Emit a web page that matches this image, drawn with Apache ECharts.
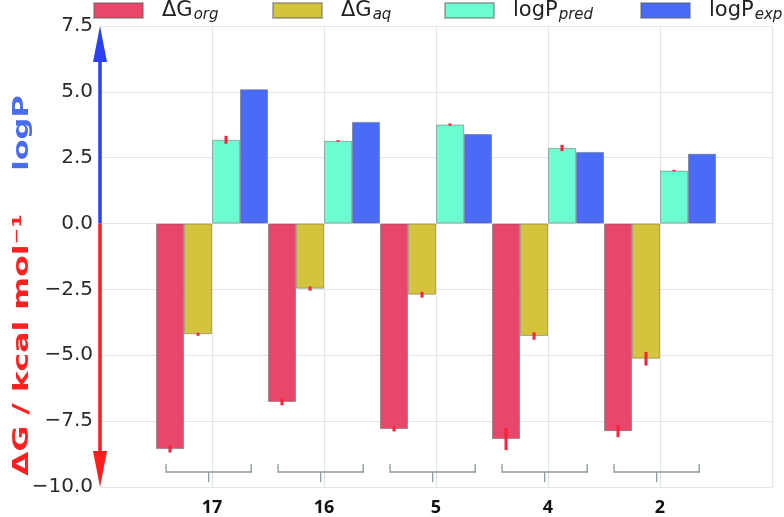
<!DOCTYPE html>
<html>
<head>
<meta charset="utf-8">
<script src="https://cdn.jsdelivr.net/npm/echarts@6/dist/echarts.min.js"></script>
<style>
html,body{margin:0;padding:0;background:#fff;}
#chart{width:784px;height:517px;}
</style>
</head>
<body>
<div id="chart"></div>
<script>
// ---- data ----
const categories = ['', '17', '16', '5', '4', '2', ''];
const compounds = ['17', '16', '5', '4', '2'];
const seriesNames = ['ΔG_org', 'ΔG_aq', 'logP_pred', 'logP_exp'];
const dGorg = [-8.56, -6.77, -7.80, -8.18, -7.88];
const dGaq = [-4.20, -2.47, -2.70, -4.27, -5.13];
const logPpred = [3.18, 3.14, 3.76, 2.87, 2.01];
const logPexp = [5.10, 3.86, 3.40, 2.72, 2.65];
const errOrg = [0.13, 0.13, 0.09, 0.42, 0.23];
const errAq = [0.06, 0.08, 0.11, 0.14, 0.26];
const errPred = [0.15, 0.03, 0.04, 0.12, 0.03];
const errExp = [0, 0, 0, 0, 0];
const yMin = -10, yMax = 7.5, yStep = 2.5;

// ---- styles ----
const colors = ['#e9476a', '#d4c43d', '#6dfcd2', '#4a6bf6'];
const gridColor = '#dfe5e8';

const allVals = [dGorg, dGaq, logPpred, logPexp];
const allErrs = [errOrg, errAq, errPred, errExp];

function pad(arr) { return [null].concat(arr, [null]); }

const errData = [];
allVals.forEach((vals, k) => {
  vals.forEach((v, i) => errData.push([i + 1, v, allErrs[k][i], k]));
});
const bracketData = compounds.map((c, i) => [i + 1, yMin]);
const arrowData = [[0, 0, yMax, 0], [0, 0, yMin, 1]];
const arrowColors = ['#2b40f0', '#ff1c1c'];

const chart = echarts.init(document.getElementById('chart'), null, {renderer: 'canvas'});

const barSeries = seriesNames.map((n, k) => ({
  name: n,
  type: 'bar',
  data: pad(allVals[k]),
  barGap: '0%',
  barCategoryGap: '0%',
  itemStyle: {color: colors[k], borderColor: 'rgba(90,90,90,0.45)', borderWidth: 1},
  emphasis: {disabled: true}
}));

const legendLefts = [93, 272, 444, 640];
const legends = seriesNames.map((n, k) => ({
  data: [n],
  left: legendLefts[k],
  top: 0,
  padding: 0,
  itemWidth: 49,
  itemHeight: 15,
  icon: 'rect',
  selectedMode: false,
  formatter: function (name) {
    const p = name.split('_');
    return '{m|' + p[0] + '}{s|' + p[1] + '}';
  },
  textStyle: {
    padding: [0, 0, 0, 14],
    rich: {
      m: {fontFamily: 'DejaVu Sans', fontSize: 21, color: '#222'},
      s: {fontFamily: 'DejaVu Sans', fontSize: 15, fontStyle: 'italic', color: '#222', padding: [10, 0, 0, 1]}
    }
  }
}));

const option = {
  animation: false,
  backgroundColor: '#fff',
  legend: legends,
  grid: {left: 100, right: 12, top: 26, bottom: 30, containLabel: false},
  xAxis: {
    type: 'category',
    data: categories,
    boundaryGap: false,
    axisLine: {show: false},
    axisTick: {show: false},
    splitLine: {show: true, interval: 0, lineStyle: {color: gridColor, width: 1.2}},
    axisLabel: {interval: 0, margin: 12, fontFamily: 'Open Sans', fontWeight: 'bold', fontSize: 18, color: '#111'}
  },
  yAxis: {
    type: 'value',
    min: yMin, max: yMax, interval: yStep,
    axisLine: {show: false},
    axisTick: {show: false},
    splitLine: {show: true, lineStyle: {color: gridColor, width: 1.2}},
    axisLabel: {
      margin: 7,
      fontFamily: 'DejaVu Sans', fontSize: 20, color: '#2a2a2a',
      formatter: v => v.toFixed(1).replace('-', '\u2212')
    }
  },
  graphic: [
    {type: 'text', x: 23, y: 133, rotation: Math.PI / 2, scaleX: 1.45, z: 100,
      style: {text: 'logP', font: 'bold 21px "DejaVu Sans"', fill: '#4a6cf0', align: 'center', verticalAlign: 'middle'}},
    {type: 'text', x: 23, y: 345, rotation: Math.PI / 2, scaleX: 1.5, z: 100,
      style: {text: 'ΔG / kcal mol⁻¹', font: 'bold 21px "DejaVu Sans"', fill: '#ff2020', align: 'center', verticalAlign: 'middle'}}
  ],
  series: barSeries.concat([
    {
      type: 'custom',
      name: 'err',
      clip: false,
      z: 5,
      data: errData,
      encode: {x: 0, y: 1},
      renderItem: function (params, api) {
        const cat = api.value(0), v = api.value(1), e = api.value(2), k = api.value(3);
        if (!e) return null;
        const band = api.size([1, 0])[0];
        const xc = api.coord([cat, v])[0] + (k - 1.5) * band / 4;
        const yA = api.coord([cat, v - e])[1];
        const yB = api.coord([cat, v + e])[1];
        return {type: 'line', shape: {x1: xc, y1: yA, x2: xc, y2: yB},
          style: {stroke: '#ff1f3a', lineWidth: 3}};
      }
    },
    {
      type: 'custom',
      name: 'brackets',
      clip: false,
      z: 5,
      data: bracketData,
      encode: {x: 0, y: 1},
      renderItem: function (params, api) {
        const cat = api.value(0);
        const band = api.size([1, 0])[0];
        const p = api.coord([cat, api.value(1)]);
        const yb = p[1];
        const xl = p[0] - 0.41 * band, xr = p[0] + 0.35 * band, xc = p[0] - 0.03 * band;
        const st = {stroke: '#8c9a9c', lineWidth: 1.3, fill: null};
        return {type: 'group', children: [
          {type: 'polyline', shape: {points: [[xl, yb - 23], [xl, yb - 15], [xr, yb - 15], [xr, yb - 23]]}, style: st},
          {type: 'line', shape: {x1: xc, y1: yb - 15, x2: xc, y2: yb - 5}, style: st}
        ]};
      }
    },
    {
      type: 'custom',
      name: 'arrows',
      clip: false,
      z: 10,
      data: arrowData,
      encode: {x: 0, y: 2},
      renderItem: function (params, api) {
        const p0 = api.coord([api.value(0), api.value(1)]);
        const p1 = api.coord([api.value(0), api.value(2)]);
        const c = arrowColors[api.value(3)];
        const dir = p1[1] > p0[1] ? 1 : -1;
        const hl = 36, hw = 7;
        const x = p0[0];
        return {type: 'group', children: [
          {type: 'line', shape: {x1: x, y1: p0[1], x2: x, y2: p1[1] - dir * hl * 0.7}, style: {stroke: c, lineWidth: 3.5}},
          {type: 'polygon', shape: {points: [[x, p1[1]], [x - hw, p1[1] - dir * hl], [x + hw, p1[1] - dir * hl]]}, style: {fill: c}}
        ]};
      }
    }
  ])
};
chart.setOption(option);
</script>
</body>
</html>
